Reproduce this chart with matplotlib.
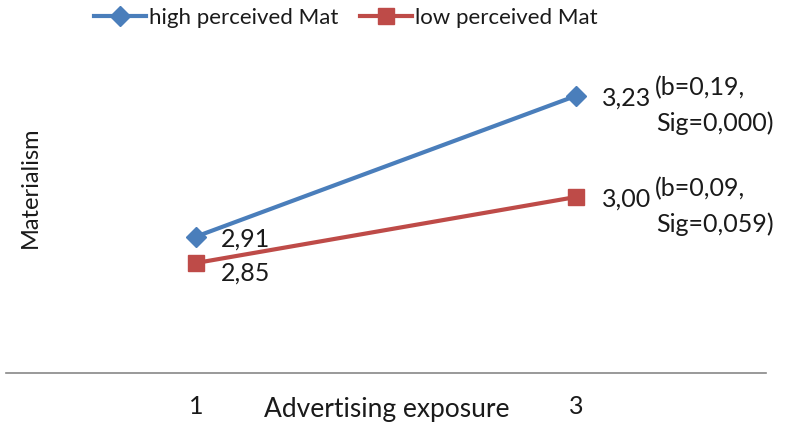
import matplotlib.pyplot as plt

plt.rcParams['font.family'] = ['Lato', 'DejaVu Sans']

categories = ['1', '3']
high_vals = [2.91, 3.23]
low_vals = [2.85, 3.00]
high_labels = ['2,91', '3,23']
low_labels = ['2,85', '3,00']
high_note = ['(b=0,19,', 'Sig=0,000)']
low_note = ['(b=0,09,', 'Sig=0,059)']

blue = '#4A7EBB'
red = '#BE4B48'
txt = '#1a1a1a'

fig = plt.figure(figsize=(7.89, 4.28), dpi=100)
ax = fig.add_axes([6 / 789, 1 - 373 / 428, 760 / 789, 323 / 428])

x = range(len(categories))
ax.plot(x, high_vals, color=blue, lw=3, marker='D', ms=10, label='high perceived Mat')
ax.plot(x, low_vals, color=red, lw=3, marker='s', ms=12, label='low perceived Mat')

ax.set_xlim(-0.5, 1.5)
ax.set_ylim(2.6, 2.6 + 323 / 440)

for s in ['top', 'left', 'right']:
    ax.spines[s].set_visible(False)
ax.spines['bottom'].set_color('#888888')
ax.spines['bottom'].set_linewidth(1.2)
ax.set_yticks([])
ax.set_xticks(list(x))
ax.set_xticklabels(categories, fontsize=18, color=txt)
ax.tick_params(axis='x', length=0, pad=16)

fig.text(387 / 789, 1 - 410 / 428, 'Advertising exposure', fontsize=19,
         ha='center', va='center', color=txt)
fig.text(30 / 789, 1 - 187 / 428, 'Materialism', fontsize=17, rotation=90,
         ha='center', va='center', color=txt)

kw = dict(textcoords='offset pixels', fontsize=18, color=txt, va='center', ha='left')
ax.annotate(high_labels[0], (0, high_vals[0]), xytext=(25, -2), **kw)
ax.annotate(low_labels[0], (0, low_vals[0]), xytext=(25, -10), **kw)
ax.annotate(high_labels[1], (1, high_vals[1]), xytext=(26, -2), **kw)
ax.annotate(low_labels[1], (1, low_vals[1]), xytext=(26, -2), **kw)
ax.annotate(high_note[0], (1, high_vals[1]), xytext=(79, 8), **kw)
ax.annotate(high_note[1], (1, high_vals[1]), xytext=(80, -27), **kw)
ax.annotate(low_note[0], (1, low_vals[1]), xytext=(79, 8), **kw)
ax.annotate(low_note[1], (1, low_vals[1]), xytext=(80, -27), **kw)

fig.legend(loc='center', bbox_to_anchor=(346 / 789, 1 - 18 / 428), ncol=2,
           frameon=False, fontsize=16, handlelength=2.3, handletextpad=0.15,
           columnspacing=1.0, labelcolor=txt)

fig.savefig('out.png', dpi=100)
